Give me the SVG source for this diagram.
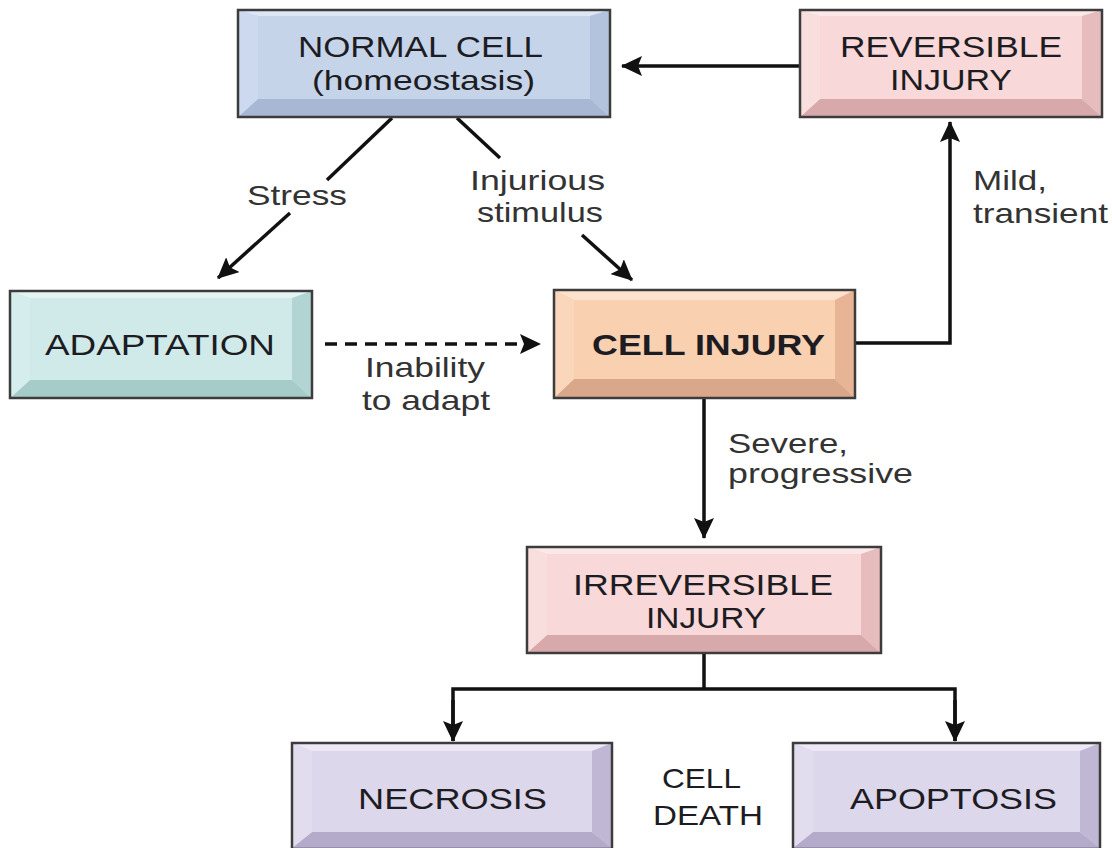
<svg xmlns="http://www.w3.org/2000/svg" width="1112" height="848" viewBox="0 0 1112 848">
<style>
.edge{fill:none;stroke:#111;stroke-width:3.5}
.dash{stroke-dasharray:12 8}
.nt{font-family:"Liberation Sans",Arial,sans-serif;font-size:30px;fill:#1c1c22}
.b{font-weight:bold}
.lb{font-family:"Liberation Sans",Arial,sans-serif;font-size:28px;fill:#333}
.frame{fill:none;stroke:#3c3c3c;stroke-width:2.5}
.blue .face{fill:#c6d4ea}.blue .top{fill:#dde6f4}.blue .bot{fill:#a8b8d4}.blue .lft{fill:#cdd9ee}.blue .rgt{fill:#b3c2dd}
.pink .face{fill:#f8d8d8}.pink .top{fill:#fce8e8}.pink .bot{fill:#d8a9aa}.pink .lft{fill:#f9dede}.pink .rgt{fill:#e6bcbd}
.teal .face{fill:#d0eaea}.teal .top{fill:#e4f4f3}.teal .bot{fill:#a6ccc9}.teal .lft{fill:#d6eded}.teal .rgt{fill:#b2d5d3}
.orange .face{fill:#f9d0b0}.orange .top{fill:#fce2cc}.orange .bot{fill:#d9a78a}.orange .lft{fill:#fad6ba}.orange .rgt{fill:#e8b496}
.lav .face{fill:#ddd7eb}.lav .top{fill:#ece8f5}.lav .bot{fill:#b4abcb}.lav .lft{fill:#e2dcef}.lav .rgt{fill:#c0b7d5}
</style>
<defs>
<marker id="ah" markerUnits="userSpaceOnUse" markerWidth="22" markerHeight="20" refX="20" refY="10" orient="auto">
<path d="M0,0 L21,10 L0,20 L4,10 z" fill="#111"/>
</marker>
</defs>
<rect width="1112" height="848" fill="#ffffff"/>

<g id="connectors">
<path class="edge" d="M392,118 L327,180"/>
<path class="edge" d="M290,213 L218,278" marker-end="url(#ah)"/>
<path class="edge" d="M457,118 L500,158"/>
<path class="edge" d="M582,235 L632,280" marker-end="url(#ah)"/>
<path class="edge dash" d="M325,344 L540,344" marker-end="url(#ah)"/>
<path class="edge" d="M855,343 L950,343 L950,122" marker-end="url(#ah)"/>
<path class="edge" d="M800,66 L622,66" marker-end="url(#ah)"/>
<path class="edge" d="M704,398 L704,538" marker-end="url(#ah)"/>
<path class="edge" d="M704,653 L704,689"/>
<path class="edge" d="M453,741 L453,689 L955,689 L955,741" />
<path class="edge" d="M453,700 L453,741" marker-end="url(#ah)"/>
<path class="edge" d="M955,700 L955,741" marker-end="url(#ah)"/>
</g>

<g id="labels">
<text class="lb" x="247" y="205" textLength="100" lengthAdjust="spacingAndGlyphs">Stress</text>
<text class="lb" x="470" y="190" textLength="135" lengthAdjust="spacingAndGlyphs">Injurious</text>
<text class="lb" x="477" y="222" textLength="126" lengthAdjust="spacingAndGlyphs">stimulus</text>
<text class="lb" x="365" y="377" textLength="120" lengthAdjust="spacingAndGlyphs">Inability</text>
<text class="lb" x="362" y="410" textLength="128" lengthAdjust="spacingAndGlyphs">to adapt</text>
<text class="lb" x="728" y="453" textLength="120" lengthAdjust="spacingAndGlyphs">Severe,</text>
<text class="lb" x="728" y="483" textLength="185" lengthAdjust="spacingAndGlyphs">progressive</text>
<text class="lb" x="973" y="190" textLength="74" lengthAdjust="spacingAndGlyphs">Mild,</text>
<text class="lb" x="973" y="223" textLength="135" lengthAdjust="spacingAndGlyphs">transient</text>
<text class="nt" x="662" y="788" textLength="79" lengthAdjust="spacingAndGlyphs" style="font-size:28px">CELL</text>
<text class="nt" x="653" y="825" textLength="110" lengthAdjust="spacingAndGlyphs" style="font-size:28px">DEATH</text>
</g>

<g id="normal-cell" class="blue">
<rect class="face" x="238" y="10" width="372" height="107"/>
<polygon class="top" points="238,10 610,10 590,16 258,16"/>
<polygon class="bot" points="238,117 610,117 590,99 258,99"/>
<polygon class="lft" points="238,10 258,16 258,99 238,117"/>
<polygon class="rgt" points="610,10 590,16 590,99 610,117"/>
<rect class="frame" x="238" y="10" width="372" height="107"/>
<text class="nt" x="298" y="57" textLength="245" lengthAdjust="spacingAndGlyphs">NORMAL CELL</text>
<text class="nt" x="312" y="90" textLength="223" lengthAdjust="spacingAndGlyphs" style="font-size:28px">(homeostasis)</text>
</g>

<g id="reversible-injury" class="pink">
<rect class="face" x="800" y="10" width="302" height="107"/>
<polygon class="top" points="800,10 1102,10 1082,16 820,16"/>
<polygon class="bot" points="800,117 1102,117 1082,99 820,99"/>
<polygon class="lft" points="800,10 820,16 820,99 800,117"/>
<polygon class="rgt" points="1102,10 1082,16 1082,99 1102,117"/>
<rect class="frame" x="800" y="10" width="302" height="107"/>
<text class="nt" x="840" y="57" textLength="222" lengthAdjust="spacingAndGlyphs">REVERSIBLE</text>
<text class="nt" x="890" y="90" textLength="122" lengthAdjust="spacingAndGlyphs">INJURY</text>
</g>

<g id="adaptation" class="teal">
<rect class="face" x="10" y="291" width="302" height="107"/>
<polygon class="top" points="10,291 312,291 292,298 30,298"/>
<polygon class="bot" points="10,398 312,398 292,380 30,380"/>
<polygon class="lft" points="10,291 30,298 30,380 10,398"/>
<polygon class="rgt" points="312,291 292,298 292,380 312,398"/>
<rect class="frame" x="10" y="291" width="302" height="107"/>
<text class="nt" x="45" y="355" textLength="230" lengthAdjust="spacingAndGlyphs">ADAPTATION</text>
</g>

<g id="cell-injury" class="orange">
<rect class="face" x="554" y="290" width="301" height="108"/>
<polygon class="top" points="554,290 855,290 835,300 574,300"/>
<polygon class="bot" points="554,398 855,398 835,379 574,379"/>
<polygon class="lft" points="554,290 574,300 574,379 554,398"/>
<polygon class="rgt" points="855,290 835,300 835,379 855,398"/>
<rect class="frame" x="554" y="290" width="301" height="108"/>
<text class="nt b" x="592" y="355" textLength="233" lengthAdjust="spacingAndGlyphs">CELL INJURY</text>
</g>

<g id="irreversible-injury" class="pink">
<rect class="face" x="527" y="547" width="354" height="106"/>
<polygon class="top" points="527,547 881,547 861,554 547,554"/>
<polygon class="bot" points="527,653 881,653 861,635 547,635"/>
<polygon class="lft" points="527,547 547,554 547,635 527,653"/>
<polygon class="rgt" points="881,547 861,554 861,635 881,653"/>
<rect class="frame" x="527" y="547" width="354" height="106"/>
<text class="nt" x="573" y="595" textLength="260" lengthAdjust="spacingAndGlyphs">IRREVERSIBLE</text>
<text class="nt" x="646" y="628" textLength="120" lengthAdjust="spacingAndGlyphs">INJURY</text>
</g>

<g id="necrosis" class="lav">
<rect class="face" x="292" y="743" width="320" height="105"/>
<polygon class="top" points="292,743 612,743 592,751 312,751"/>
<polygon class="bot" points="292,848 612,848 592,832 312,832"/>
<polygon class="lft" points="292,743 312,751 312,832 292,848"/>
<polygon class="rgt" points="612,743 592,751 592,832 612,848"/>
<rect class="frame" x="292" y="743" width="320" height="106"/>
<text class="nt" x="358" y="809" textLength="189" lengthAdjust="spacingAndGlyphs">NECROSIS</text>
</g>

<g id="apoptosis" class="lav">
<rect class="face" x="793" y="743" width="307" height="105"/>
<polygon class="top" points="793,743 1100,743 1080,751 813,751"/>
<polygon class="bot" points="793,848 1100,848 1080,832 813,832"/>
<polygon class="lft" points="793,743 813,751 813,832 793,848"/>
<polygon class="rgt" points="1100,743 1080,751 1080,832 1100,848"/>
<rect class="frame" x="793" y="743" width="307" height="106"/>
<text class="nt" x="850" y="809" textLength="207" lengthAdjust="spacingAndGlyphs">APOPTOSIS</text>
</g>
</svg>
